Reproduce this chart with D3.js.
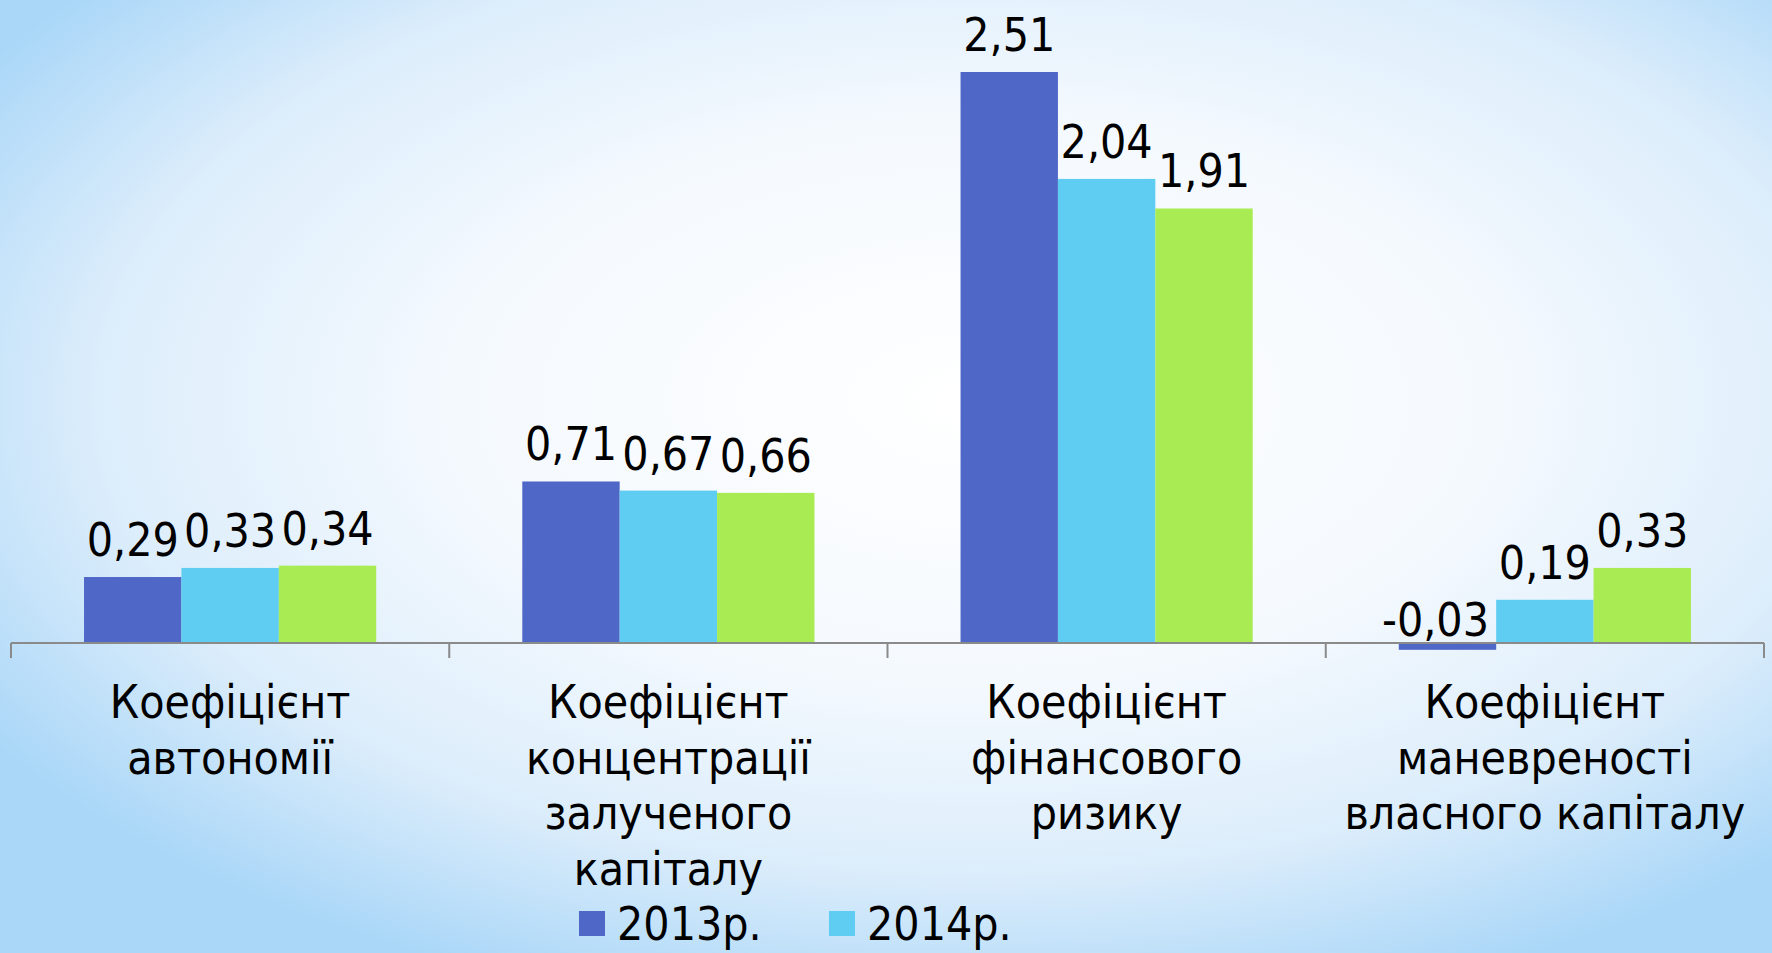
<!DOCTYPE html>
<html>
<head>
<meta charset="utf-8">
<script src="https://cdn.jsdelivr.net/npm/d3@7"></script>
<style>
  html, body { margin: 0; padding: 0; overflow: hidden; }
  body { width: 1772px; height: 953px; }
  text { font-family: "DejaVu Sans Condensed", "DejaVu Sans", sans-serif; font-stretch: condensed; fill: #000; }
</style>
</head>
<body>
<div id="chart"></div>
<script>
// data
const categories = [
    ["Коефіцієнт", "автономії"],
    ["Коефіцієнт", "концентрації", "залученого", "капіталу"],
    ["Коефіцієнт", "фінансового", "ризику"],
    ["Коефіцієнт", "маневреності", "власного капіталу"]
];
const series = ["2013р.", "2014р.", "2015р."];
const values2013 = [0.29, 0.71, 2.51, -0.03];
const values2014 = [0.33, 0.67, 2.04, 0.19];
const values2015 = [0.34, 0.66, 1.91, 0.33];
const colors = ["#4f67c7", "#5fcdf2", "#a8eb52"];

const width = 1772;
const height = 953;
const margin = ({ top: 72, right: 8, bottom: 310, left: 11 });

const catKeys = categories.map((c, i) => i);
const table = catKeys.map(i => ({
    cat: i,
    vals: [values2013[i], values2014[i], values2015[i]]
}));

const svg = d3.select("#chart").append("svg")
    .attr("width", width)
    .attr("height", height);

// background
const grad = svg.append("defs").append("radialGradient")
    .attr("id", "bg")
    .attr("cx", "55%").attr("cy", "42%")
    .attr("r", "66%")
    .attr("gradientUnits", "objectBoundingBox");
grad.append("stop").attr("offset", "0%").attr("stop-color", "#ffffff");
grad.append("stop").attr("offset", "45%").attr("stop-color", "#f4f9fe");
grad.append("stop").attr("offset", "75%").attr("stop-color", "#dcedfb");
grad.append("stop").attr("offset", "100%").attr("stop-color", "#aad7f8");

svg.append("rect")
    .attr("width", width)
    .attr("height", height)
    .attr("fill", "url(#bg)");

// scales
const zeroY = height - margin.bottom;
const x0 = d3.scaleBand().domain(catKeys).range([margin.left, width - margin.right]).padding(0);
const x1 = d3.scaleBand().domain(d3.range(series.length)).range([0, x0.bandwidth()]).paddingInner(0).paddingOuter(0.75);
const y = d3.scaleLinear().domain([0, 2.51]).range([zeroY, margin.top]);

// bars
const groups = svg.append("g")
    .selectAll("g")
    .data(table)
    .join("g")
    .attr("transform", d => `translate(${x0(d.cat)},0)`);

groups.selectAll("rect")
    .data(d => d.vals)
    .join("rect")
    .attr("x", (d, i) => x1(i))
    .attr("width", x1.bandwidth())
    .attr("y", d => Math.min(y(d), y(0)))
    .attr("height", d => Math.abs(y(d) - y(0)))
    .attr("fill", (d, i) => colors[i]);

// value labels
groups.selectAll("text")
    .data(d => d.vals)
    .join("text")
    .attr("x", (d, i) => x1(i) + x1.bandwidth() / 2 - (d < 0 ? 12 : 0))
    .attr("y", d => d < 0 ? y(0) - 7 : y(d) - 21)
    .attr("text-anchor", "middle")
    .style("font-size", "46px")
    .text(d => d3.format(".2f")(d).replace(".", ",").replace("−", "-"));

// axis line with boundary ticks
const axis = svg.append("g");
axis.append("line")
    .attr("x1", x0.range()[0]).attr("x2", x0.range()[1])
    .attr("y1", zeroY).attr("y2", zeroY)
    .attr("stroke", "#8a8a8a").attr("stroke-width", 2);
axis.selectAll("line.tick")
    .data(catKeys.concat([catKeys.length]))
    .join("line")
    .attr("class", "tick")
    .attr("x1", d => x0.range()[0] + d * x0.step())
    .attr("x2", d => x0.range()[0] + d * x0.step())
    .attr("y1", zeroY).attr("y2", zeroY + 15)
    .attr("stroke", "#8a8a8a").attr("stroke-width", 2);

// category labels
const catLabels = svg.append("g")
    .selectAll("text")
    .data(categories)
    .join("text")
    .attr("text-anchor", "middle")
    .attr("x", (d, i) => x0(i) + x0.bandwidth() / 2)
    .attr("y", zeroY + 75)
    .style("font-size", "46px");

catLabels.selectAll("tspan")
    .data(d => d)
    .join("tspan")
    .attr("x", function () { return this.parentNode.getAttribute("x"); })
    .attr("dy", (d, i) => i === 0 ? 0 : 55.5)
    .text(d => d);

// legend (only the first row is visible in the frame)
const legendItems = [0, 1];
const legend = svg.append("g")
    .selectAll("g")
    .data(legendItems)
    .join("g")
    .attr("transform", (d, i) => `translate(${579 + i * 250},911)`);

legend.append("rect")
    .attr("width", 26)
    .attr("height", 25)
    .attr("fill", d => colors[d]);

legend.append("text")
    .attr("x", 38)
    .attr("y", 29)
    .style("font-size", "46px")
    .text(d => series[d]);
</script>
</body>
</html>
